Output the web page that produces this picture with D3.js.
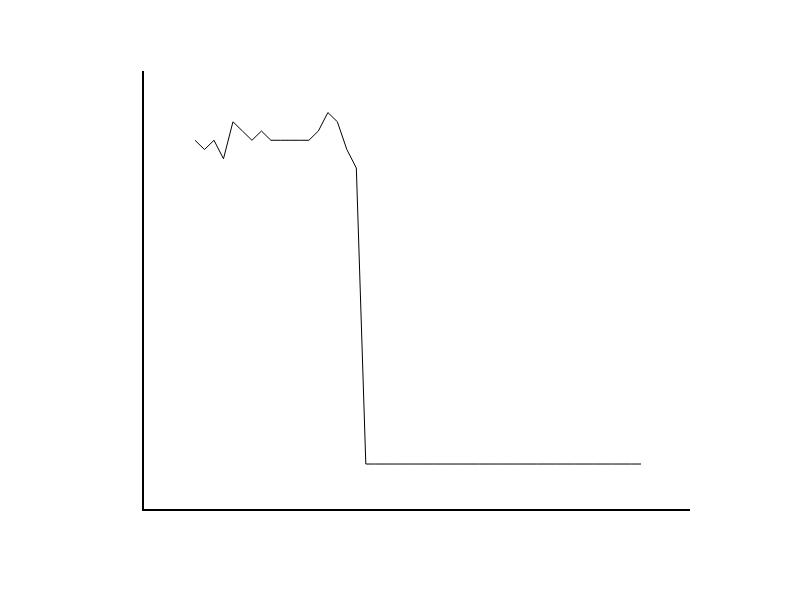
<!DOCTYPE html>
<html>
<head>
<meta charset="utf-8">
<script src="https://cdn.jsdelivr.net/npm/d3@7"></script>
<style>
  body { margin: 0; background: #fff; }
</style>
</head>
<body>
<div class="chart-div"></div>
<script>
//--------------------------- Data

var steps = d3.range(48);
var values = [35, 34, 35, 33, 37, 36, 35, 36, 35, 35, 35, 35, 35, 36, 38, 37, 34, 32,
    0, 0, 0, 0, 0, 0, 0, 0, 0, 0, 0, 0, 0, 0, 0, 0, 0, 0, 0, 0, 0, 0, 0, 0, 0, 0, 0, 0, 0, 0];

//--------------------------- SVG definition

var width = 800;
var height = 612;

var svg = d3.select("div.chart-div")
    .append("svg")
    .attr("width", width)
    .attr("height", height)
    .style("display", "block");

//--------------------------- Scales (plot frame 143..690 x 72..510)

var x = d3.scaleLinear()
    .domain([-5.48, 52.16])
    .range([143, 690]);

var y = d3.scaleLinear()
    .domain([-4.97, 42.38])
    .range([510, 72]);

//--------------------------- Axes (no ticks, just the spines)

svg.append("line")
    .attr("x1", x(-5.48)).attr("x2", x(-5.48))
    .attr("y1", y(42.38) - 1).attr("y2", y(-4.97) + 1)
    .style("stroke", "#000")
    .style("stroke-width", 2);

svg.append("line")
    .attr("x1", x(-5.48) - 1).attr("x2", x(52.16))
    .attr("y1", y(-4.97)).attr("y2", y(-4.97))
    .style("stroke", "#000")
    .style("stroke-width", 2);

//--------------------------- Line

var line = d3.line()
    .x(function (d, i) { return x(steps[i]); })
    .y(function (d) { return y(d); });

svg.append("path")
    .datum(values)
    .attr("d", line)
    .style("fill", "none")
    .style("stroke", "#000")
    .style("stroke-width", 1);
</script>
</body>
</html>
